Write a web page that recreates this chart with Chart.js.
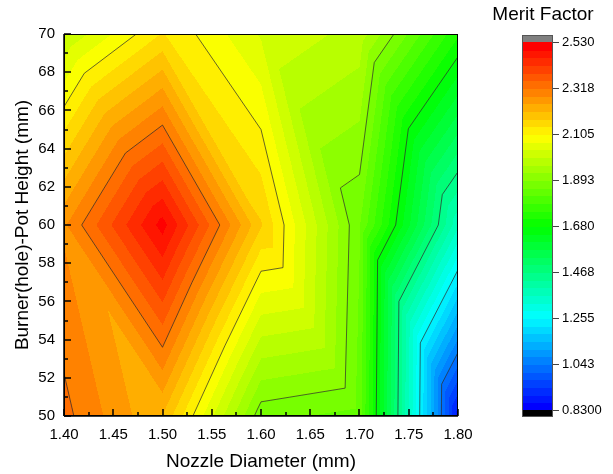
<!DOCTYPE html>
<html>
<head>
<meta charset="utf-8">
<script src="https://cdn.jsdelivr.net/npm/chart.js@4.4.0/dist/chart.umd.min.js"></script>
<style>
  html, body { margin: 0; padding: 0; background: #fff; }
</style>
</head>
<body>
<canvas id="mychart" width="613" height="474"></canvas>
<script>
// measured grid: nozzle diameter (mm) x burner-pot height (mm)
const nozzleDia = [1.40, 1.50, 1.60, 1.70, 1.80];
const potHeight = [50, 60, 70];
const meritAt50 = [2.33, 2.21, 1.87, 1.844, 0.88];
const meritAt60 = [2.276, 2.51, 2.18, 1.86, 1.37];
const meritAt70 = [2.00, 2.143, 2.03, 1.985, 1.722];

const xTicks = [1.40, 1.45, 1.50, 1.55, 1.60, 1.65, 1.70, 1.75, 1.80];
const yTicks = [50, 52, 54, 56, 58, 60, 62, 64, 66, 68, 70];

// contour lines + colour scale
const lineLevels = [2.318, 2.105, 1.893, 1.680, 1.468, 1.255, 1.043];
const cbTickValues = [2.530, 2.318, 2.105, 1.893, 1.680, 1.468, 1.255, 1.043, 0.830];
const cbTickLabels = ['2.530', '2.318', '2.105', '1.893', '1.680', '1.468', '1.255', '1.043', '0.8300'];
const zMin = 0.83, zMax = 2.53, nBands = 48;

const FONT = 'Arial, "Liberation Sans", sans-serif';
const meritRows = [meritAt50, meritAt60, meritAt70];
const rainbow = [[0, 0, 255], [0, 255, 255], [0, 255, 0], [255, 255, 0], [255, 0, 0]];

function bandColor(k) {
  let t = k / (nBands - 1) * 4;
  let s = Math.min(3, Math.floor(t));
  let f = t - s;
  let a = rainbow[s], b = rainbow[s + 1];
  return [0, 1, 2].map(c => Math.round(a[c] + f * (b[c] - a[c])));
}

function bandOf(v) {
  if (v > zMax) return [128, 128, 128];
  if (v < zMin) return [0, 0, 0];
  let k = Math.min(nBands - 1, Math.floor((v - zMin) / (zMax - zMin) * nBands));
  return bandColor(k);
}

// linear interpolation on triangles (cell split top-left -> bottom-right)
function meritAt(x, y) {
  let i = 0;
  while (i < nozzleDia.length - 2 && x > nozzleDia[i + 1]) i++;
  let j = 0;
  while (j < potHeight.length - 2 && y > potHeight[j + 1]) j++;
  let u = (x - nozzleDia[i]) / (nozzleDia[i + 1] - nozzleDia[i]);
  let w = (y - potHeight[j]) / (potHeight[j + 1] - potHeight[j]);
  let v00 = meritRows[j][i], v10 = meritRows[j][i + 1];
  let v01 = meritRows[j + 1][i], v11 = meritRows[j + 1][i + 1];
  if (u + w <= 1) return v00 + u * (v10 - v00) + w * (v01 - v00);
  return v11 + (1 - u) * (v01 - v11) + (1 - w) * (v10 - v11);
}

function triangles() {
  let list = [];
  for (let j = 0; j < potHeight.length - 1; j++) {
    for (let i = 0; i < nozzleDia.length - 1; i++) {
      let p = (a, b) => ({x: nozzleDia[a], y: potHeight[b], v: meritRows[b][a]});
      list.push([p(i, j), p(i + 1, j), p(i, j + 1)]);
      list.push([p(i + 1, j + 1), p(i, j + 1), p(i + 1, j)]);
    }
  }
  return list;
}

const contourPlugin = {
  id: 'contour',
  beforeDatasetsDraw(chart) {
    const {ctx, chartArea: area, scales: {x: xs, y: ys}} = chart;
    const w = Math.round(area.right - area.left), h = Math.round(area.bottom - area.top);
    const off = document.createElement('canvas');
    off.width = w; off.height = h;
    const octx = off.getContext('2d');
    const img = octx.createImageData(w, h);
    for (let py = 0; py < h; py++) {
      let yv = ys.getValueForPixel(area.top + py + 0.5);
      for (let px = 0; px < w; px++) {
        let xv = xs.getValueForPixel(area.left + px + 0.5);
        let c = bandOf(meritAt(xv, yv));
        let k = (py * w + px) * 4;
        img.data[k] = c[0]; img.data[k + 1] = c[1]; img.data[k + 2] = c[2]; img.data[k + 3] = 255;
      }
    }
    octx.putImageData(img, 0, 0);
    ctx.save();
    ctx.drawImage(off, area.left, area.top);

    // contour lines
    ctx.beginPath();
    ctx.rect(area.left, area.top, area.right - area.left, area.bottom - area.top);
    ctx.clip();
    ctx.strokeStyle = 'rgba(45,45,45,0.8)';
    ctx.lineWidth = 0.9;
    for (const tri of triangles()) {
      for (const lv of lineLevels) {
        let pts = [];
        for (let e = 0; e < 3; e++) {
          let a = tri[e], b = tri[(e + 1) % 3];
          if ((a.v - lv) * (b.v - lv) < 0) {
            let t = (lv - a.v) / (b.v - a.v);
            pts.push([xs.getPixelForValue(a.x + t * (b.x - a.x)), ys.getPixelForValue(a.y + t * (b.y - a.y))]);
          }
        }
        if (pts.length == 2) {
          ctx.beginPath();
          ctx.moveTo(pts[0][0], pts[0][1]);
          ctx.lineTo(pts[1][0], pts[1][1]);
          ctx.stroke();
        }
      }
    }
    ctx.restore();

    // frame + inward ticks
    ctx.save();
    ctx.strokeStyle = '#000';
    ctx.lineWidth = 1;
    ctx.strokeRect(area.left + 0.5, area.top + 0.5, area.right - area.left - 1, area.bottom - area.top - 1);
    ctx.lineWidth = 1.5;
    ctx.beginPath();
    ctx.moveTo(area.left, area.bottom); ctx.lineTo(area.right, area.bottom);
    ctx.moveTo(area.left, area.top); ctx.lineTo(area.left, area.bottom);
    ctx.stroke();
    ctx.beginPath();
    for (let k = 0; k < xTicks.length; k++) {
      let px = Math.round(xs.getPixelForValue(xTicks[k]));
      ctx.moveTo(px, area.bottom); ctx.lineTo(px, area.bottom - 7);
      if (k < xTicks.length - 1) {
        let mx = Math.round(xs.getPixelForValue((xTicks[k] + xTicks[k + 1]) / 2));
        ctx.moveTo(mx, area.bottom); ctx.lineTo(mx, area.bottom - 4);
      }
    }
    for (let k = 0; k < yTicks.length; k++) {
      let py = Math.round(ys.getPixelForValue(yTicks[k]));
      ctx.moveTo(area.left, py); ctx.lineTo(area.left + 7, py);
      if (k < yTicks.length - 1) {
        let my = Math.round(ys.getPixelForValue((yTicks[k] + yTicks[k + 1]) / 2));
        ctx.moveTo(area.left, my); ctx.lineTo(area.left + 4, my);
      }
    }
    ctx.stroke();
    ctx.restore();
  },
  afterDraw(chart) {
    const ctx = chart.ctx;
    const cb = {left: 522, right: 553, top: 42, bottom: 410, cap: 7};
    const bh = (cb.bottom - cb.top) / nBands;
    ctx.save();
    for (let k = 0; k < nBands; k++) {
      let c = bandColor(k);
      ctx.fillStyle = 'rgb(' + c.join(',') + ')';
      let y0 = cb.bottom - (k + 1) * bh;
      ctx.fillRect(cb.left, Math.floor(y0), cb.right - cb.left, Math.ceil(bh) + 1);
    }
    ctx.fillStyle = '#808080';
    ctx.fillRect(cb.left, cb.top - cb.cap, cb.right - cb.left, cb.cap);
    ctx.fillStyle = '#000';
    ctx.fillRect(cb.left, cb.bottom, cb.right - cb.left, cb.cap);
    ctx.strokeStyle = '#555';
    ctx.lineWidth = 1;
    ctx.strokeRect(cb.left + 0.5, cb.top - cb.cap + 0.5, cb.right - cb.left - 1, cb.bottom - cb.top + 2 * cb.cap - 1);

    ctx.font = '13px ' + FONT;
    ctx.textAlign = 'left';
    ctx.textBaseline = 'middle';
    ctx.strokeStyle = '#444';
    for (let k = 0; k < cbTickValues.length; k++) {
      let y = Math.round(cb.bottom - (cbTickValues[k] - zMin) / (zMax - zMin) * (cb.bottom - cb.top)) + 0.5;
      ctx.beginPath();
      ctx.moveTo(cb.right, y); ctx.lineTo(cb.right + 6, y);
      ctx.stroke();
      ctx.fillStyle = '#000';
      ctx.fillText(cbTickLabels[k], cb.right + 9, y);
    }
    ctx.font = '19px ' + FONT;
    ctx.textAlign = 'center';
    ctx.fillText('Merit Factor', 543, 15);
    ctx.restore();
  }
};

new Chart(document.getElementById('mychart'), {
  type: 'scatter',
  data: {
    datasets: [{
      label: 'Merit Factor',
      data: potHeight.flatMap((y, j) => nozzleDia.map((x, i) => ({x: x, y: y, z: meritRows[j][i]}))),
      pointRadius: 0,
    }],
  },
  options: {
    responsive: false,
    animation: false,
    layout: {padding: {top: 34, right: 155, left: 0, bottom: 0}},
    plugins: {legend: {display: false}, tooltip: {enabled: false}},
    scales: {
      x: {
        type: 'linear', min: 1.4, max: 1.8,
        afterBuildTicks: s => { s.ticks = xTicks.map(v => ({value: v})); },
        afterFit: s => { s.height = 58; },
        grid: {display: false, drawTicks: false},
        border: {display: false},
        ticks: {color: '#000', font: {size: 15, family: FONT}, padding: 10, maxRotation: 0,
                callback: v => v.toFixed(2)},
        title: {display: true, text: 'Nozzle Diameter (mm)', color: '#000',
                font: {size: 19, family: FONT}, padding: {top: 0, bottom: 1}},
      },
      y: {
        type: 'linear', min: 50, max: 70,
        afterBuildTicks: s => { s.ticks = yTicks.map(v => ({value: v})); },
        afterFit: s => { s.width = 64; },
        grid: {display: false, drawTicks: false},
        border: {display: false},
        ticks: {color: '#000', font: {size: 15, family: FONT}, padding: 9,
                callback: v => String(v)},
        title: {display: true, text: 'Burner(hole)-Pot Height (mm)', color: '#000',
                font: {size: 19, family: FONT}, padding: {top: 11, bottom: 0}},
      },
    },
  },
  plugins: [contourPlugin],
});
</script>
</body>
</html>
